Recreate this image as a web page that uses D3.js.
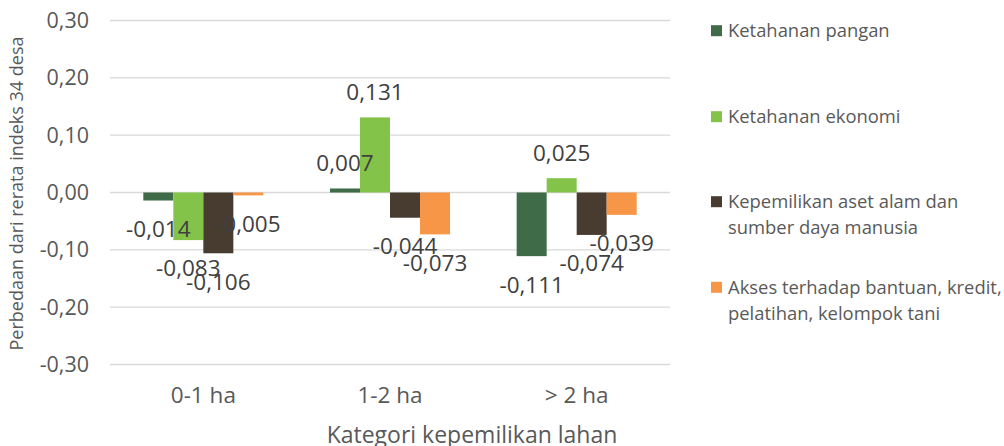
<!DOCTYPE html>
<meta charset="utf-8">
<style>
  body { margin: 0; background: #fff; }
  text { font-family: "Open Sans", "Noto Sans", sans-serif; }
</style>
<svg width="1004" height="446"></svg>
<script src="https://d3js.org/d3.v7.min.js"></script>
<script>
const categories = ["0-1 ha", "1-2 ha", "> 2 ha"];
const seriesNames = ["Ketahanan pangan", "Ketahanan ekonomi", "Kepemilikan aset alam dan sumber daya manusia", "Akses terhadap bantuan, kredit, pelatihan, kelompok tani"];
const pangan = [-0.014, 0.007, -0.111];
const ekonomi = [-0.083, 0.131, 0.025];
const aset = [-0.106, -0.044, -0.074];
const akses = [-0.005, -0.073, -0.039];
const yTicks = [-0.3, -0.2, -0.1, 0, 0.1, 0.2, 0.3];
const legendLines = [["Ketahanan pangan"], ["Ketahanan ekonomi"], ["Kepemilikan aset alam dan", "sumber daya manusia"], ["Akses terhadap bantuan, kredit,", "pelatihan, kelompok tani"]];

const colors = ["#3f6b48", "#84c34a", "#483c30", "#f79646"];
const values = [pangan, ekonomi, aset, akses];

var svg = d3.select("svg");

var y = d3.scaleLinear().domain([-0.3, 0.3]).range([364.5, 20.5]);
var x0 = d3.scaleBand().domain(categories).range([110, 670]).paddingInner(0.357).paddingOuter(0.1785);
var x1 = d3.scaleBand().domain(d3.range(seriesNames.length)).range([0, x0.bandwidth()]);

var fmt = function(v) { return d3.format(".3f")(v).replace(".", ",").replace("−", "-"); };

// gridlines
svg.append("g").selectAll("line").data(yTicks).join("line")
    .attr("x1", 110).attr("x2", 670)
    .attr("y1", d => y(d)).attr("y2", d => y(d))
    .attr("stroke", "#d9d9d9").attr("stroke-width", 1.3);

// y tick labels
svg.append("g").selectAll("text").data(yTicks).join("text")
    .attr("x", 89).attr("y", d => y(d)).attr("dy", "0.35em")
    .attr("text-anchor", "end").attr("fill", "#595959").style("font-size", "21.5px")
    .text(d => d3.format(".2f")(d).replace(".", ",").replace("−", "-"));

// bars
var rows = [];
values.forEach(function(arr, s) {
  arr.forEach(function(v, c) { rows.push({s: s, c: c, v: v}); });
});

svg.append("g").selectAll("rect").data(rows).join("rect")
    .attr("x", d => x0(categories[d.c]) + x1(d.s))
    .attr("width", x1.bandwidth())
    .attr("y", d => y(Math.max(0, d.v)))
    .attr("height", d => Math.abs(y(d.v) - y(0)))
    .attr("fill", d => colors[d.s]);

// data labels
svg.append("g").selectAll("text").data(rows).join("text")
    .attr("x", d => x0(categories[d.c]) + x1(d.s) + x1.bandwidth() / 2)
    .attr("y", d => d.v >= 0 ? y(d.v) - 25 : y(d.v) + 28.5)
    .attr("dy", "0.35em")
    .attr("text-anchor", "middle").attr("fill", "#404040").style("font-size", "22.5px")
    .text(d => fmt(d.v));

// category labels
svg.append("g").selectAll("text").data(categories).join("text")
    .attr("x", d => x0(d) + x0.bandwidth() / 2).attr("y", 395).attr("dy", "0.35em")
    .attr("text-anchor", "middle").attr("fill", "#595959").style("font-size", "22.5px")
    .text(d => d);

// axis titles
svg.append("text")
    .attr("transform", "translate(17,193.5) rotate(-90)").attr("dy", "0.35em")
    .attr("text-anchor", "middle").attr("fill", "#595959").style("font-size", "18px")
    .text("Perbedaan dari rerata indeks 34 desa");

svg.append("text")
    .attr("x", 472).attr("y", 435).attr("dy", "0.35em")
    .attr("text-anchor", "middle").attr("fill", "#595959").style("font-size", "23px")
    .text("Kategori kepemilikan lahan");

// legend
const legendY = [30.7, 116.7, 201.7, 287.3];
var lg = svg.append("g").selectAll("g").data(legendLines).join("g")
    .attr("transform", (d, i) => "translate(711," + legendY[i] + ")");
lg.append("rect").attr("x", 0).attr("y", -5.5).attr("width", 11).attr("height", 11)
    .attr("fill", (d, i) => colors[i]);
lg.append("text").attr("fill", "#595959").style("font-size", "18.4px")
  .selectAll("tspan").data(d => d).join("tspan")
    .attr("x", 17).attr("y", (d, j) => j * 26).attr("dy", "0.35em")
    .text(d => d);
</script>
